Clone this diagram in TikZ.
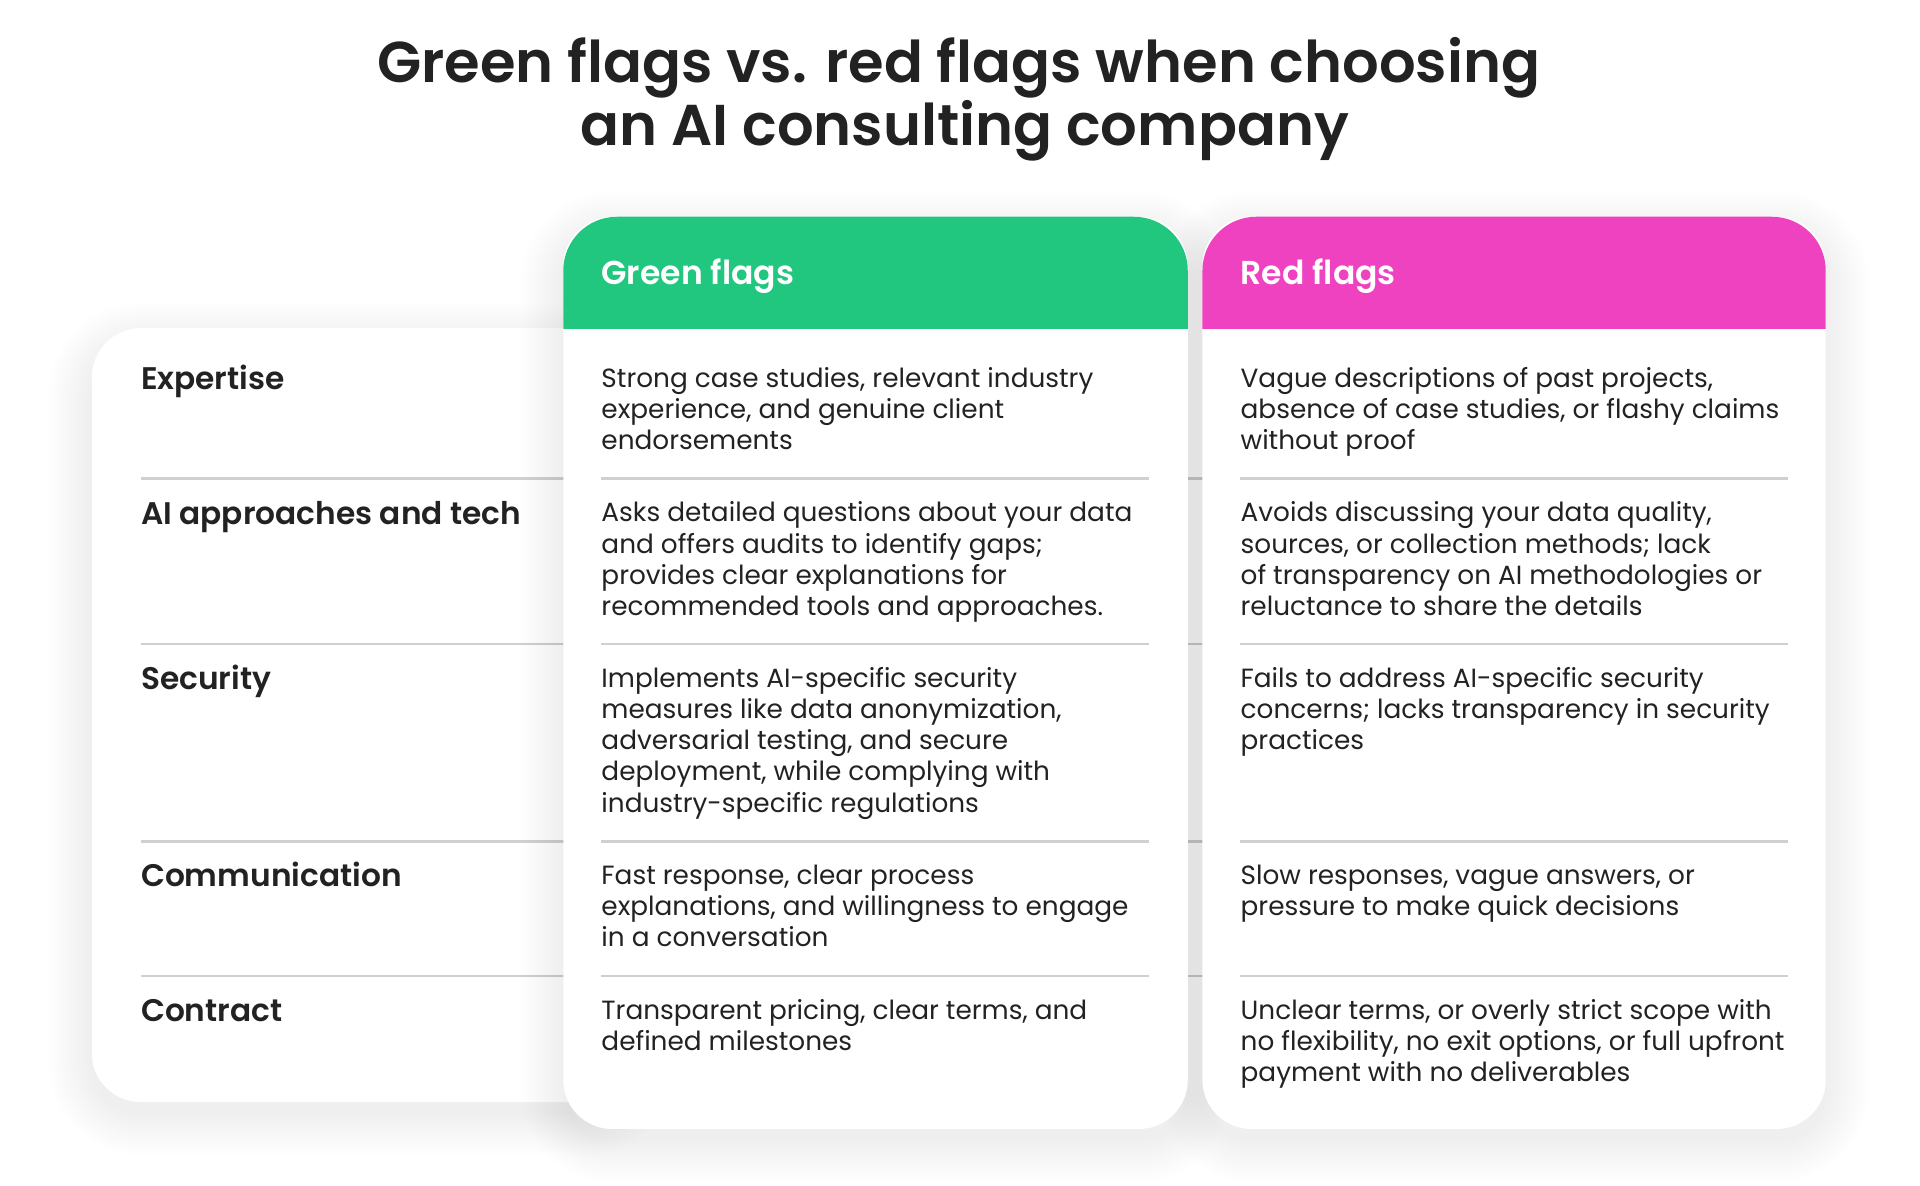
\documentclass[tikz,border=0pt]{standalone}
\usepackage{fontspec}
\setmainfont{Poppins}
\newfontface\semib{Poppins SemiBold}
\definecolor{gflag}{RGB}{33,199,127}
\definecolor{rflag}{RGB}{239,66,193}
\definecolor{ink}{RGB}{34,34,34}
\definecolor{sep}{RGB}{208,208,208}
\tikzset{
  sepline/.style={draw=sep, line width=2.2pt},
  rowlabel/.style={anchor=base west, inner sep=0pt, text=ink, font=\fontsize{25.5}{30}\selectfont\semib},
  bodytext/.style={anchor=north west, inner sep=0pt, align=left, text=ink, font=\fontsize{21.5}{25.5}\selectfont},
  headtext/.style={anchor=base west, inner sep=0pt, text=white, font=\fontsize{27}{32}\selectfont\semib},
  titletext/.style={anchor=north, inner sep=0pt, align=center, text=ink, font=\fontsize{47}{52}\selectfont\semib}
}
\newcommand{\fl}{\rule{0pt}{17pt}}
% soft shadow: #1 = x1, #2 = y1, #3 = x2, #4 = y2
\newcommand{\softshadow}[4]{%
  \foreach \k in {1,...,16} {
    \fill[black, opacity=0.0055, rounded corners=40pt+\k*2.2pt]
      ({#1-\k*2.2},{#2+14-\k*2.2}) rectangle ({#3+\k*2.2},{#4+8+\k*2.2});
  }}
\begin{document}
\begin{tikzpicture}[x=1pt,y=-1pt]
\useasboundingbox[fill=white] (0,0) rectangle (1568,968);
% title
\node[titletext] (title) at (783,30) {\rule{0pt}{37pt}Green flags vs. red flags when choosing\\\hspace*{10pt}an AI consulting company};
% left card with shadow
\softshadow{75}{268}{520}{900}
\foreach \yy in {391,526,687,797} \draw[sepline] (115,\yy) -- (1460,\yy);
\fill[white, rounded corners=40pt] (75,268) rectangle (520,900);
\foreach \yy in {391,526,687,797} \draw[sepline] (115,\yy) -- (520,\yy);
% shadows of the two flag cards
\softshadow{460}{177}{970}{922}
\softshadow{982}{177}{1491}{922}
% green card
\fill[white, rounded corners=40pt] (460,177) rectangle (970,922);
\begin{scope}
\clip (460,177) rectangle (970,268);
\fill[gflag, rounded corners=44pt] (460,177) rectangle (970,330);
\end{scope}
% red card
\fill[white, rounded corners=40pt] (982,177) rectangle (1491,922);
\begin{scope}
\clip (982,177) rectangle (1491,268);
\fill[rflag, rounded corners=44pt] (982,177) rectangle (1491,330);
\end{scope}
% separators in cards
\foreach \yy in {391,526,687,797} {
  \draw[sepline] (491,\yy) -- (938,\yy);
  \draw[sepline] (1013,\yy) -- (1460,\yy);
}
% headers
\node[headtext] (gh) at (491,232) {Green flags};
\node[headtext] (rh) at (1013,232) {Red flags};
% row labels
\node[rowlabel] (l1) at (115,318) {Expertise};
\node[rowlabel] (l2) at (115,428) {AI approaches and tech};
\node[rowlabel] (l3) at (115,563) {Security};
\node[rowlabel] (l4) at (115,724) {Communication};
\node[rowlabel] (l5) at (115,834) {Contract};
% green texts
\node[bodytext] (g1) at (491,299) {\fl Strong case studies, relevant industry\\experience, and genuine client\\endorsements};
\node[bodytext] (g2) at (491,409) {\fl Asks detailed questions about your data\\and offers audits to identify gaps;\\provides clear explanations for\\recommended tools and approaches.};
\node[bodytext] (g3) at (491,544) {\fl Implements AI-specific security\\measures like data anonymization,\\adversarial testing, and secure\\deployment, while complying with\\industry-specific regulations};
\node[bodytext] (g4) at (491,705) {\fl Fast response, clear process\\explanations, and willingness to engage\\in a conversation};
\node[bodytext] (g5) at (491,815) {\fl Transparent pricing, clear terms, and\\defined milestones};
% red texts
\node[bodytext] (r1) at (1013,299) {\fl Vague descriptions of past projects,\\absence of case studies, or flashy claims\\without proof};
\node[bodytext] (r2) at (1013,409) {\fl Avoids discussing your data quality,\\sources, or collection methods; lack\\of transparency on AI methodologies or\\reluctance to share the details};
\node[bodytext] (r3) at (1013,544) {\fl Fails to address AI-specific security\\concerns; lacks transparency in security\\practices};
\node[bodytext] (r4) at (1013,705) {\fl Slow responses, vague answers, or\\pressure to make quick decisions};
\node[bodytext] (r5) at (1013,815) {\fl Unclear terms, or overly strict scope with\\no flexibility, no exit options, or full upfront\\payment with no deliverables};
\end{tikzpicture}
\end{document}
